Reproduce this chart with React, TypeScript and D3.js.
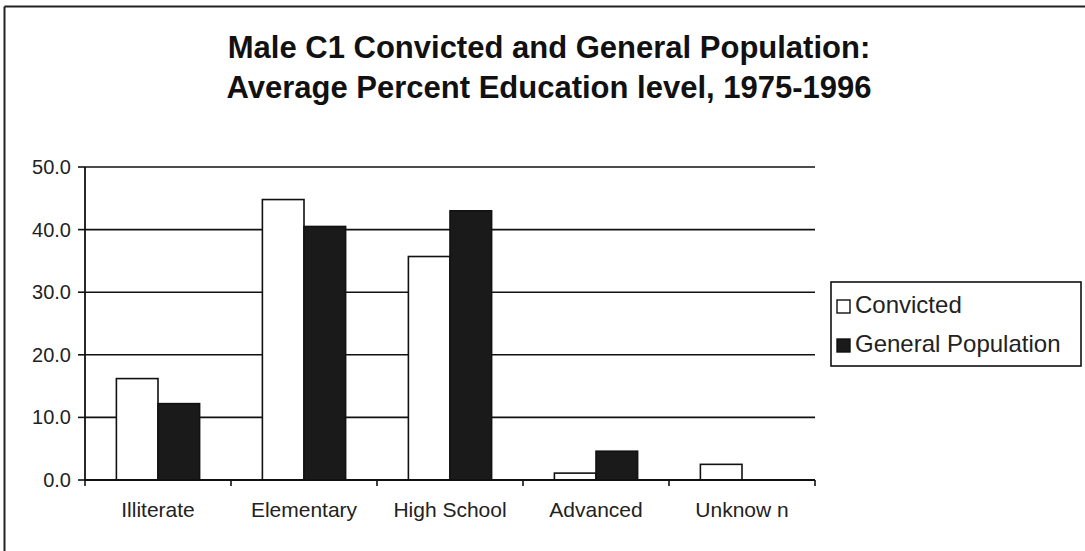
import React from "react";
import * as d3 from "d3";

const categories = ["Illiterate", "Elementary", "High School", "Advanced", "Unknow n"];
const convicted = [16.2, 44.8, 35.7, 1.1, 2.5];
const generalPopulation = [12.2, 40.5, 43.0, 4.6, 0];
const seriesNames = ["Convicted", "General Population"];
const yTicks = [0, 10, 20, 30, 40, 50];
const titleLines = [
  "Male C1 Convicted and General Population:",
  "Average Percent Education level, 1975-1996",
];

const W = 1085;
const H = 551;
const plot = { left: 85, right: 815, top: 167, bottom: 480 };
const FONT = "'Liberation Sans', Arial, sans-serif";

export default function App() {
  const x0 = d3.scaleBand<string>().domain(categories).range([plot.left, plot.right]).padding(0);
  const bw = x0.bandwidth();
  const groupOffset = bw * 0.215;
  const x1 = d3
    .scaleBand<string>()
    .domain(seriesNames)
    .range([groupOffset, bw - groupOffset])
    .padding(0);
  const y = d3.scaleLinear().domain([0, 50]).range([plot.bottom, plot.top]);

  const series = [
    { name: seriesNames[0], values: convicted, fill: "#ffffff" },
    { name: seriesNames[1], values: generalPopulation, fill: "#1a1a1a" },
  ];

  const boundaries = [...categories.map((c) => x0(c) as number), plot.right];

  return (
    <svg
      width={W}
      height={H}
      style={{ position: "absolute", left: 0, top: 0, background: "#fff" }}
      fontFamily={FONT}
    >
      <rect x={0} y={0} width={W} height={H} fill="#fff" />
      {/* outer frame (top & left visible) */}
      <line x1={4.5} y1={6.5} x2={W} y2={6.5} stroke="#222" strokeWidth={2} />
      <line x1={4.5} y1={6.5} x2={4.5} y2={H} stroke="#222" strokeWidth={2} />

      {/* title */}
      {titleLines.map((t, i) => (
        <text
          key={t}
          x={549}
          y={58 + i * 40}
          textAnchor="middle"
          fontWeight="bold"
          fontSize={31}
          fill="#111"
        >
          {t}
        </text>
      ))}

      {/* gridlines */}
      {yTicks.map((t) => (
        <g key={t}>
          {t > 0 && (
            <line x1={plot.left} x2={plot.right} y1={y(t)} y2={y(t)} stroke="#111" strokeWidth={1.6} />
          )}
          <line x1={plot.left - 7} x2={plot.left} y1={y(t)} y2={y(t)} stroke="#111" strokeWidth={1.6} />
          <text x={71} y={y(t) + 7} textAnchor="end" fontSize={20} fill="#222">
            {t.toFixed(1)}
          </text>
        </g>
      ))}

      {/* bars */}
      {series.map((s) =>
        categories.map((c, i) => {
          const v = s.values[i];
          if (!v) return null;
          const bx = (x0(c) as number) + (x1(s.name) as number);
          return (
            <rect
              key={s.name + c}
              x={bx}
              y={y(v)}
              width={x1.bandwidth()}
              height={y(0) - y(v)}
              fill={s.fill}
              stroke="#111"
              strokeWidth={1.6}
            />
          );
        })
      )}

      {/* axes */}
      <line x1={plot.left} x2={plot.left} y1={plot.top} y2={plot.bottom} stroke="#111" strokeWidth={1.8} />
      <line x1={plot.left} x2={plot.right} y1={plot.bottom} y2={plot.bottom} stroke="#111" strokeWidth={1.8} />
      {boundaries.map((bx, i) => (
        <line key={i} x1={bx} x2={bx} y1={plot.bottom} y2={plot.bottom + 6} stroke="#111" strokeWidth={1.6} />
      ))}

      {/* category labels */}
      {categories.map((c) => (
        <text
          key={c}
          x={(x0(c) as number) + bw / 2}
          y={517}
          textAnchor="middle"
          fontSize={21}
          fill="#222"
        >
          {c}
        </text>
      ))}

      {/* legend */}
      <rect x={831} y={282} width={250} height={84} fill="#fff" stroke="#111" strokeWidth={1.6} />
      {series.map((s, i) => (
        <g key={s.name}>
          <rect
            x={837}
            y={300 + i * 39}
            width={13}
            height={13}
            fill={s.fill}
            stroke="#111"
            strokeWidth={1.4}
          />
          <text x={855} y={313 + i * 39} fontSize={24} fill="#222">
            {s.name}
          </text>
        </g>
      ))}
    </svg>
  );
}
